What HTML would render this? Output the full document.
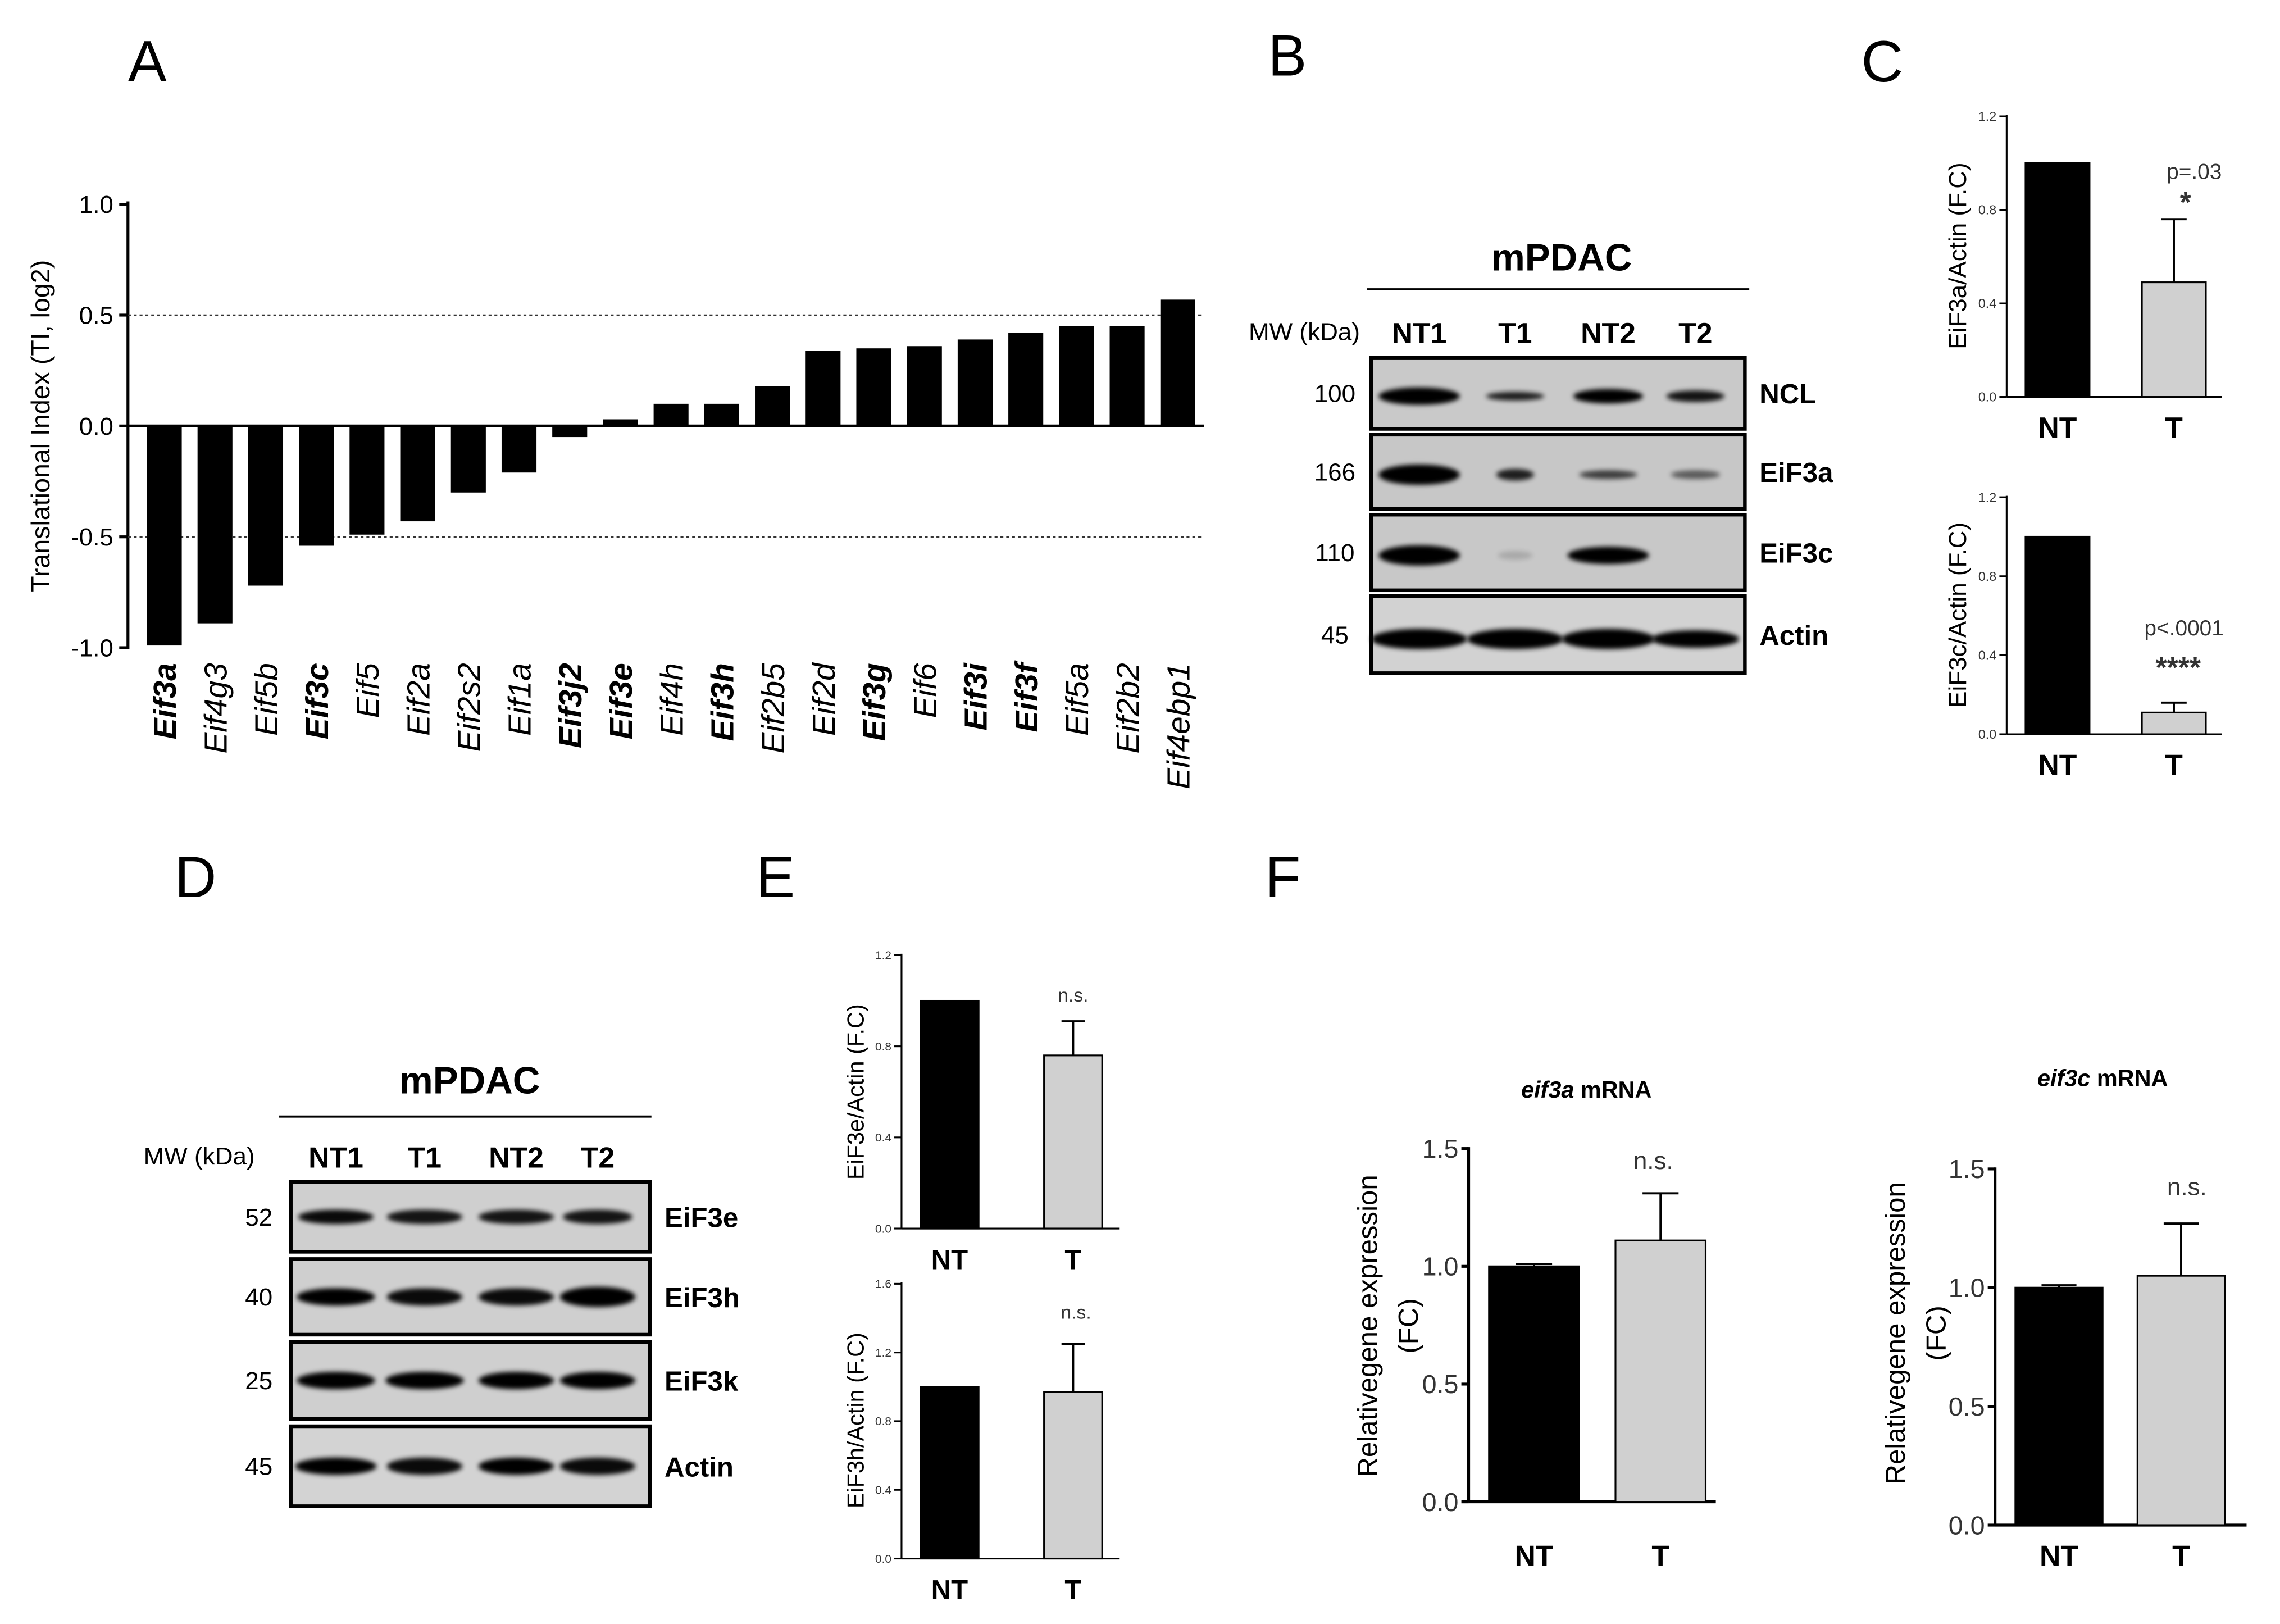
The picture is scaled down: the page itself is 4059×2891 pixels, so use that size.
<!DOCTYPE html>
<html><head><meta charset="utf-8"><style>
html,body{margin:0;padding:0;background:#fff;}
svg{display:block;font-family:"Liberation Sans",sans-serif;}
</style></head><body>
<svg id="fig" width="4059" height="2891" viewBox="0 0 1568 1117" preserveAspectRatio="none" xmlns="http://www.w3.org/2000/svg">
<defs><filter id="blur" x="-20%" y="-100%" width="140%" height="300%"><feGaussianBlur stdDeviation="1.6"/></filter></defs>
<g font-size="40">
<text x="88" y="56">A</text>
<text x="872" y="52">B</text>
<text x="1280" y="56">C</text>
<text x="120" y="617">D</text>
<text x="520" y="617">E</text>
<text x="870" y="617">F</text>
</g>
<g id="A"></g><g id="blots"></g><g id="bars"></g>
</svg>
<script>
const NS="http://www.w3.org/2000/svg";
function mk(parent,tag,attrs,text){const e=document.createElementNS(NS,tag);for(const k in attrs)e.setAttribute(k,attrs[k]);if(text!==undefined)e.textContent=text;parent.appendChild(e);return e;}

// ---- Panel A data ----
const genes=["Eif3a","Eif4g3","Eif5b","Eif3c","Eif5","Eif2a","Eif2s2","Eif1a","Eif3j2","Eif3e","Eif4h","Eif3h","Eif2b5","Eif2d","Eif3g","Eif6","Eif3i","Eif3f","Eif5a","Eif2b2","Eif4ebp1"];
const tiValues=[-0.99,-0.89,-0.72,-0.54,-0.49,-0.43,-0.30,-0.21,-0.05,0.03,0.10,0.10,0.18,0.34,0.35,0.36,0.39,0.42,0.45,0.45,0.57];
const boldGenes=["Eif3a","Eif3c","Eif3j2","Eif3e","Eif3h","Eif3g","Eif3i","Eif3f"];
const tiTicks=[1.0,0.5,0.0,-0.5,-1.0];
const tiTickLabels=["1.0","0.5","0.0","-0.5","-1.0"];

(function(){
const g=document.getElementById("A");
const yA=v=>293-v*152.5;
const xA=i=>113+i*34.85;
let ax=mk(g,"line",{x1:88,y1:yA(1.0)-2,x2:88,y2:yA(-1.0)+1,stroke:"#000","stroke-width":2});


let zl=mk(g,"line",{x1:88,y1:yA(0),x2:828,y2:yA(0),stroke:"#000","stroke-width":2});


[0.5,-0.5].forEach(v=>{let d=mk(g,"line",{x1:88,y1:yA(v),x2:828,y2:yA(v),stroke:"#333","stroke-width":1,"stroke-dasharray":"2,2"});

});
tiTicks.forEach((v,i)=>{mk(g,"line",{x1:82,y1:yA(v),x2:88,y2:yA(v),stroke:"#000","stroke-width":2});
let t=mk(g,"text",{x:78,y:yA(v)+6,"text-anchor":"end","font-size":17},tiTickLabels[i]);

});
let yt=mk(g,"text",{x:34,y:293,"text-anchor":"middle","font-size":18,transform:"rotate(-90 34 293)"},"Translational Index (TI, log2)");


genes.forEach((n,i)=>{const v=tiValues[i];const y0=yA(0),y1=yA(v);
let r=mk(g,"rect",{x:xA(i)-12,y:Math.min(y0,y1),width:24,height:Math.abs(y1-y0),fill:"#000"});


const bx=xA(i)+8,by=456;
let t=mk(g,"text",{x:bx,y:by,"text-anchor":"end","font-size":22,"font-style":"italic","font-weight":boldGenes.includes(n)?"bold":"normal",transform:`rotate(-90 ${bx} ${by})`},n);

});
})();

// ---- Blots ----
function blot(cfg){
const g=document.getElementById("blots");
let t=mk(g,"text",{x:cfg.titleX,y:cfg.titleY,"text-anchor":"middle","font-size":26,"font-weight":"bold"},"mPDAC");


mk(g,"line",{x1:cfg.lineX1,y1:cfg.lineY,x2:cfg.lineX2,y2:cfg.lineY,stroke:"#000","stroke-width":1.5});
let mw=mk(g,"text",{x:cfg.mwX,y:cfg.laneY-2,"text-anchor":"middle","font-size":17},"MW (kDa)");


cfg.lanes.forEach((l,i)=>{let lt=mk(g,"text",{x:cfg.laneX[i],y:cfg.laneY,"text-anchor":"middle","font-size":20,"font-weight":"bold"},l);

});
cfg.rows.forEach((row,ri)=>{const [y1,y2]=row.y;const cy=(y1+y2)/2;
let bg=mk(g,"rect",{x:cfg.x1,y:y1,width:cfg.x2-cfg.x1,height:y2-y1,fill:row.bg,stroke:"#000","stroke-width":2.5});


row.bands.forEach((b,i)=>{if(b[0]<=0)return;
let e=mk(g,"ellipse",{cx:cfg.laneX[i]+(cfg.bandShift||0),cy:cy+(row.dy||0),rx:b[1],ry:b[2],fill:"#000",opacity:b[0],filter:"url(#blur)"});

});
let lb=mk(g,"text",{x:cfg.x2+10,y:cy+7,"font-size":19,"font-weight":"bold"},row.label);


let mwv=mk(g,"text",{x:cfg.mwNumX,y:cy+6,"text-anchor":"middle","font-size":17},row.mw);

});
}
blot({id:"b",titleX:1074,titleY:186,lineX1:940,lineX2:1203,lineY:199,mwX:897,laneY:236,lanes:["NT1","T1","NT2","T2"],laneX:[976,1042,1106,1166],
x1:943,x2:1200,mwNumX:918,bandShift:0,rows:[
{label:"NCL",mw:"100",y:[246,295],bg:"#c9c9c9",dy:2,bands:[[1,28,6],[0.85,20,3],[1,24,5],[0.9,20,4]]},
{label:"EiF3a",mw:"166",y:[299,350],bg:"#c7c7c7",dy:2,bands:[[1,28,7],[0.85,13,4],[0.7,20,3],[0.55,17,3]]},
{label:"EiF3c",mw:"110",y:[354,406],bg:"#c8c8c8",dy:2,bands:[[1,28,7],[0.15,12,3],[1,28,6],[0,1,1]]},
{label:"Actin",mw:"45",y:[410,463],bg:"#d2d2d2",dy:3,bands:[[1,33,7],[1,33,7],[1,32,7],[1,30,6]]}]});
blot({id:"d",titleX:323,titleY:752,lineX1:192,lineX2:448,lineY:768,mwX:137,laneY:803,lanes:["NT1","T1","NT2","T2"],laneX:[231,292,355,411],
x1:200,x2:447,mwNumX:178,rows:[
{label:"EiF3e",mw:"52",y:[813,861],bg:"#cfcfcf",bands:[[0.95,26,5],[0.9,26,5],[0.9,26,5],[0.9,24,5]]},
{label:"EiF3h",mw:"40",y:[866,918],bg:"#cfcfcf",bands:[[1,27,6],[0.95,26,6],[0.95,26,6],[1,26,7]]},
{label:"EiF3k",mw:"25",y:[923,976],bg:"#cfcfcf",bands:[[1,27,6],[1,27,6],[1,26,6],[1,26,6]]},
{label:"Actin",mw:"45",y:[981,1036],bg:"#d3d3d3",bands:[[1,28,6],[0.95,26,6],[1,26,6],[0.95,26,6]]}]});

// ---- Small bar charts ----
const groups=["NT","T"];
const c1Values=[1.0,0.49]; const c1Err=[0,0.27];
const c2Values=[1.0,0.11]; const c2Err=[0,0.05];
const e1Values=[1.0,0.76]; const e1Err=[0,0.15];
const e2Values=[1.0,0.97]; const e2Err=[0,0.28];
const f1Values=[1.0,1.11]; const f1Err=[0.01,0.20];
const f2Values=[1.0,1.05]; const f2Err=[0.01,0.22];
const ticks12=["0.0","0.4","0.8","1.2"];
const ticks16=["0.0","0.4","0.8","1.2","1.6"];
const ticks15=["0.0","0.5","1.0","1.5"];

function barChart(c){
const g=mk(document.getElementById("bars"),"g",{});


const max=parseFloat(c.ticks[c.ticks.length-1]);
const y=v=>c.y0-(v/max)*(c.y0-c.yTop);
mk(g,"line",{x1:c.ax,y1:c.yTop-1,x2:c.ax,y2:c.y0,stroke:"#000","stroke-width":c.sw});
mk(g,"line",{x1:c.ax,y1:c.y0,x2:c.axEnd,y2:c.y0,stroke:"#000","stroke-width":c.sw});
c.ticks.forEach(t=>{const yy=y(parseFloat(t));mk(g,"line",{x1:c.ax-5,y1:yy,x2:c.ax,y2:yy,stroke:"#000","stroke-width":c.sw});
let tl=mk(g,"text",{x:c.ax-7,y:yy+c.tfs*0.35,"text-anchor":"end","font-size":c.tfs,fill:"#333"},t);

});
groups.forEach((gr,i)=>{const v=c.values[i],e=c.err[i];const x=c.barX[i];
if(e>0){mk(g,"line",{x1:x+c.bw/2,y1:y(v),x2:x+c.bw/2,y2:y(v+e),stroke:"#000","stroke-width":1.5});
mk(g,"line",{x1:x+c.bw/2-c.bw*0.2,y1:y(v+e),x2:x+c.bw/2+c.bw*0.2,y2:y(v+e),stroke:"#000","stroke-width":1.5});}
let r=mk(g,"rect",{x:x,y:y(v),width:c.bw,height:y(0)-y(v),fill:i?"#d0d0d0":"#000",stroke:"#000","stroke-width":1.2});


let l=mk(g,"text",{x:x+c.bw/2,y:c.labY,"text-anchor":"middle","font-size":c.lfs,"font-weight":"bold"},gr);

});
c.titleLines.forEach((tl,k)=>{const tx=c.titleX+k*c.titleDx;
let t=mk(g,"text",{x:tx,y:c.titleY,"text-anchor":"middle","font-size":c.tifs,transform:`rotate(-90 ${tx} ${c.titleY})`},tl);

});
(c.notes||[]).forEach(n=>{let t=mk(g,"text",{x:n[0],y:n[1],"text-anchor":"middle","font-size":n[3],fill:"#333","font-weight":n[4]||"normal"},n[2]);

});
if(c.head){let t=mk(g,"text",{x:c.head[0],y:c.head[1],"text-anchor":"middle","font-size":16,"font-weight":"bold"});
let s=mk(t,"tspan",{"font-style":"italic"},c.head[2]);mk(t,"tspan",{}," mRNA");

}
}
barChart({id:"c1",ax:1380,axEnd:1528,y0:273,yTop:80,ticks:ticks12,tfs:9,sw:1.2,values:c1Values,err:c1Err,barX:[1393,1473],bw:44,labY:301,lfs:20,titleLines:["EiF3a/Actin (F.C)"],titleX:1352,titleDx:0,titleY:176,tifs:17,notes:[[1509,123,"p=.03",15],[1503,146,"*",20,"bold"]]});
barChart({id:"c2",ax:1380,axEnd:1528,y0:505,yTop:342,ticks:ticks12,tfs:9,sw:1.2,values:c2Values,err:c2Err,barX:[1393,1473],bw:44,labY:533,lfs:20,titleLines:["EiF3c/Actin (F.C)"],titleX:1352,titleDx:0,titleY:423,tifs:17,notes:[[1502,437,"p<.0001",15],[1498,466,"****",20,"bold"]]});
barChart({id:"e1",ax:620,axEnd:770,y0:845,yTop:657,ticks:ticks12,tfs:8,sw:1.2,values:e1Values,err:e1Err,barX:[633,718],bw:40,labY:873,lfs:19,titleLines:["EiF3e/Actin (F.C)"],titleX:594,titleDx:0,titleY:751,tifs:16,notes:[[738,689,"n.s.",13]]});
barChart({id:"e2",ax:620,axEnd:770,y0:1072,yTop:883,ticks:ticks16,tfs:8,sw:1.2,values:e2Values,err:e2Err,barX:[633,718],bw:40,labY:1100,lfs:19,titleLines:["EiF3h/Actin (F.C)"],titleX:594,titleDx:0,titleY:977,tifs:16,notes:[[740,907,"n.s.",13]]});
barChart({id:"f1",ax:1010,axEnd:1180,y0:1033,yTop:790,ticks:ticks15,tfs:18,sw:2,values:f1Values,err:f1Err,barX:[1024,1111],bw:62,labY:1077,lfs:20,titleLines:["Relativegene expression","(FC)"],titleX:947,titleDx:28,titleY:912,tifs:19,notes:[[1137,804,"n.s.",17]],head:[1091,755,"eif3a"]});
barChart({id:"f2",ax:1372,axEnd:1545,y0:1049,yTop:804,ticks:ticks15,tfs:18,sw:2,values:f2Values,err:f2Err,barX:[1386,1470],bw:60,labY:1077,lfs:20,titleLines:["Relativegene expression","(FC)"],titleX:1310,titleDx:28,titleY:917,tifs:19,notes:[[1504,822,"n.s.",17]],head:[1446,747,"eif3c"]});
</script>
</body></html>
